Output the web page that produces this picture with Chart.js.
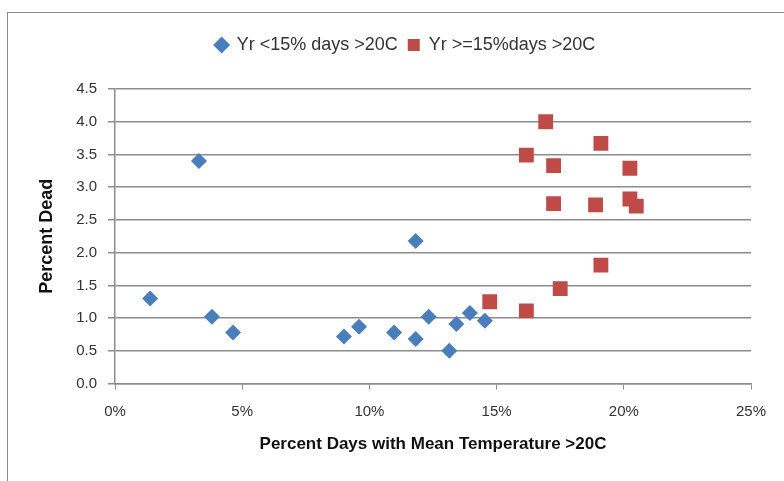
<!DOCTYPE html>
<html lang="en">
<head>
  <meta charset="UTF-8" />
  <title>Percent Dead vs Percent Days >20C</title>
  <script src="https://cdn.jsdelivr.net/npm/chart.js"></script>
  <style>
    body { margin: 0; background: #fff; }
    .frame { position: absolute; left: 7px; top: 12px; width: 800px; height: 480px;
             border-left: 1.5px solid #8c8c8c; border-top: 1.5px solid #8c8c8c; }
    #chart { position: absolute; left: 0; top: 0; }
  </style>
</head>
<body>
  <div class="frame"></div>
  <canvas id="chart" width="784" height="481"></canvas>

  <script>
    // percent of days with mean temperature > 20C, percent dead
    const lowX  = [1.38, 3.30, 3.81, 4.64, 9.00, 9.59, 10.97, 11.82, 11.82, 12.33, 13.14, 13.42, 13.95, 14.54];
    const lowY  = [1.30, 3.40, 1.02, 0.78, 0.72, 0.87, 0.78, 2.18, 0.68, 1.02, 0.50, 0.91, 1.08, 0.96];
    const highX = [14.73, 16.17, 16.17, 16.93, 17.24, 17.24, 17.50, 18.89, 19.10, 19.10, 20.24, 20.24, 20.49];
    const highY = [1.25, 1.11, 3.49, 4.00, 3.33, 2.75, 1.45, 2.73, 3.67, 1.81, 3.29, 2.82, 2.71];
    const seriesNames = ['Yr <15% days >20C', 'Yr >=15%days >20C'];
    const xTicks = [0, 5, 10, 15, 20, 25];
    const yTicks = [0, 0.5, 1, 1.5, 2, 2.5, 3, 3.5, 4, 4.5];

    const toPoints = (xs, ys) => xs.map((x, i) => ({ x: x, y: ys[i] }));

    const font = 'Liberation Sans';
    // fixed legend band height and a small nudge to the right
    const legendBox = {
      id: 'legendBox',
      beforeInit(chart) {
        const fit = chart.legend.fit;
        chart.legend.fit = function () {
          fit.call(this);
          this.height = 63;
        };
      },
      afterLayout(chart) {
        chart.legend.left += 12;
        chart.legend.right += 12;
      }
    };

    new Chart(document.getElementById('chart').getContext('2d'), {
      type: 'scatter',
      data: {
        datasets: [{
          label: seriesNames[0],
          data: toPoints(lowX, lowY),
          pointStyle: 'rectRot',
          pointRadius: 8,
          pointHoverRadius: 8,
          backgroundColor: '#4a7ebb',
          borderColor: '#4a7ebb',
          borderWidth: 0
        }, {
          label: seriesNames[1],
          data: toPoints(highX, highY),
          pointStyle: 'rect',
          pointRadius: 10.5,
          pointHoverRadius: 10.5,
          backgroundColor: '#be4b48',
          borderColor: '#be4b48',
          borderWidth: 0
        }]
      },
      plugins: [legendBox],
      options: {
        responsive: false,
        animation: false,
        layout: { padding: { left: 36, top: 26, right: 33, bottom: 26 } },
        plugins: {
          tooltip: { enabled: false },
          legend: {
            position: 'top',
            labels: {
              usePointStyle: true,
              boxWidth: 12,
              boxHeight: 12,
              padding: 10,
              color: '#333',
              font: { family: font, size: 18 }
            }
          }
        },
        scales: {
          x: {
            type: 'linear',
            min: 0,
            max: 25,
            afterBuildTicks(scale) { scale.ticks = xTicks.map(v => ({ value: v })); },
            ticks: {
              color: '#333',
              padding: 13,
              font: { family: font, size: 15 },
              callback: v => v + '%'
            },
            grid: { drawOnChartArea: false, tickLength: 6, color: '#8c8c8c' },
            border: { color: '#8c8c8c', width: 1.5 },
            title: {
              display: true,
              text: 'Percent Days with Mean Temperature >20C',
              color: '#111',
              padding: { top: 1, bottom: 0 },
              font: { family: font, size: 17, weight: 'bold' }
            }
          },
          y: {
            type: 'linear',
            min: 0,
            max: 4.5,
            afterBuildTicks(scale) { scale.ticks = yTicks.map(v => ({ value: v })); },
            afterFit(scale) { scale.width = 79; },
            ticks: {
              color: '#333',
              padding: 11,
              font: { family: font, size: 15 },
              callback: v => v.toFixed(1)
            },
            grid: { color: '#8c8c8c', lineWidth: 1.5, tickLength: 7 },
            border: { color: '#8c8c8c', width: 1.5 },
            title: {
              display: true,
              text: 'Percent Dead',
              color: '#111',
              padding: 0,
              font: { family: font, size: 18, weight: 'bold' }
            }
          }
        }
      }
    });
  </script>
</body>
</html>
